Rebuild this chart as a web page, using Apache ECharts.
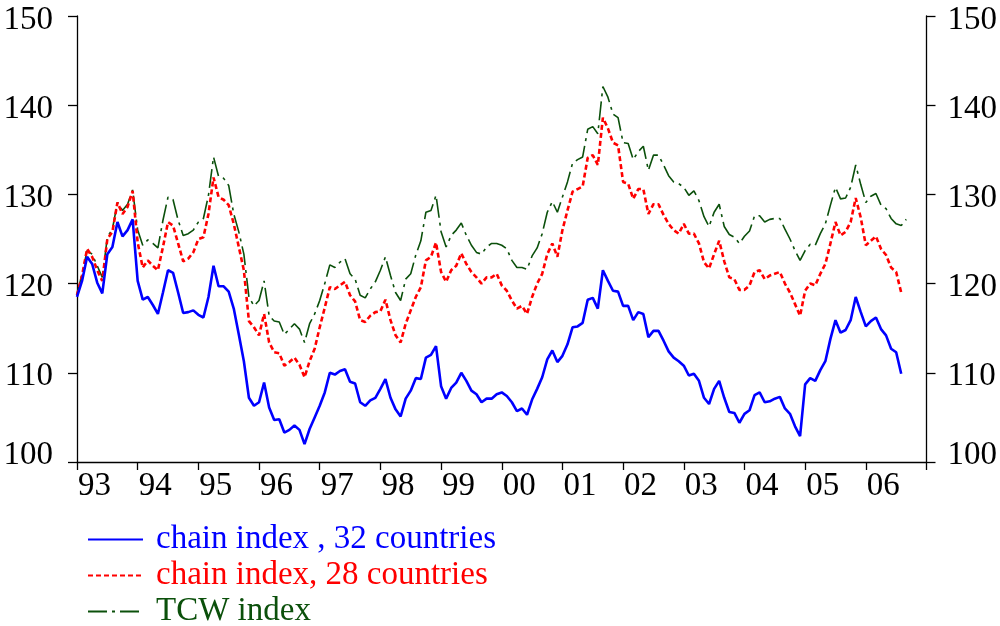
<!DOCTYPE html>
<html>
<head>
<meta charset="utf-8">
<script src="https://cdn.jsdelivr.net/npm/echarts@6/dist/echarts.min.js"></script>
<style>
  html, body { margin: 0; padding: 0; background: #ffffff; }
  #chart { width: 1000px; height: 626px; }
</style>
</head>
<body>
<div id="chart"></div>
<script>
// Monthly index values, starting January 1993
const startYear = 1993;

const chain32 = [
  118.5, 120.3, 123.0, 122.2, 120.1, 118.9, 123.3, 124.1, 126.9, 125.3, 126.0, 127.2,
  120.3, 118.2, 118.5, 117.6, 116.6, 119.0, 121.5, 121.2, 119.0, 116.7, 116.8, 117.0,
  116.5, 116.2, 118.5, 122.0, 119.7, 119.7, 119.1, 117.2, 114.3, 111.3, 107.2, 106.3,
  106.7, 108.9, 106.1, 104.7, 104.8, 103.3, 103.6, 104.1, 103.6, 102.0, 103.7, 105.0,
  106.3, 107.8, 110.0, 109.8, 110.2, 110.4, 109.0, 108.8, 106.7, 106.3, 106.9, 107.2,
  108.2, 109.3, 107.2, 105.9, 105.1, 107.1, 108.0, 109.4, 109.3, 111.7, 112.0, 113.0,
  108.5, 107.1, 108.3, 108.9, 110.0, 109.1, 108.0, 107.6, 106.7, 107.1, 107.1, 107.6,
  107.8, 107.4, 106.7, 105.7, 106.0, 105.3, 107.0, 108.2, 109.5, 111.5, 112.5, 111.2,
  111.9, 113.2, 115.1, 115.2, 115.6, 118.2, 118.4, 117.2, 121.5, 120.3, 119.2, 119.1,
  117.5, 117.5, 115.9, 116.8, 116.6, 114.0, 114.7, 114.7, 113.6, 112.4, 111.7, 111.3,
  110.8, 109.7, 109.9, 109.1, 107.2, 106.5, 108.2, 109.1, 107.2, 105.6, 105.5, 104.4,
  105.4, 105.8, 107.5, 107.8, 106.7, 106.8, 107.1, 107.3, 106.0, 105.4, 104.0, 102.9,
  108.7, 109.4, 109.1, 110.3, 111.3, 113.8, 115.9, 114.5, 114.8, 115.9, 118.5, 116.8,
  115.2, 115.8, 116.2, 114.9, 114.2, 112.7, 112.3, 109.9
];

const chain28 = [
  118.7, 120.9, 123.9, 123.0, 121.5, 120.3, 125.0, 125.8, 129.1, 127.8, 128.6, 130.4,
  124.6, 121.8, 122.6, 122.0, 121.5, 124.1, 126.9, 126.5, 124.5, 122.5, 122.8, 123.5,
  125.0, 125.2, 127.8, 131.9, 129.7, 129.4, 128.8, 126.7, 124.1, 121.5, 115.8, 115.1,
  114.2, 116.6, 113.4, 112.3, 112.2, 110.8, 111.2, 111.7, 110.9, 109.5, 111.3, 112.7,
  115.1, 117.3, 119.6, 119.4, 119.8, 120.2, 118.7, 118.0, 115.9, 115.7, 116.4, 116.8,
  116.9, 118.2, 115.9, 114.2, 113.4, 115.5, 117.0, 118.5, 119.6, 122.6, 123.0, 124.6,
  121.3, 120.2, 121.5, 122.0, 123.4, 122.2, 121.3, 120.7, 120.0, 120.7, 120.7, 121.1,
  119.8, 119.2, 118.1, 117.2, 117.5, 116.6, 118.5, 120.0, 121.1, 123.3, 124.5, 123.0,
  126.0, 128.2, 130.3, 130.6, 130.9, 134.1, 134.4, 133.3, 138.6, 137.4, 135.8, 135.5,
  131.4, 131.2, 129.5, 130.6, 130.6, 127.8, 128.9, 128.9, 127.7, 126.7, 126.0, 125.6,
  126.7, 125.6, 125.6, 124.5, 122.4, 121.7, 123.3, 124.8, 122.5, 120.7, 120.5, 119.3,
  119.3, 119.8, 121.3, 121.5, 120.5, 120.9, 121.1, 121.3, 120.0, 119.0, 117.7, 116.4,
  119.2, 120.0, 119.8, 121.1, 122.2, 124.5, 126.9, 125.4, 125.8, 126.9, 129.6, 127.4,
  124.3, 124.8, 125.3, 123.9, 123.2, 121.8, 121.3, 119.0
];

const tcw = [
  118.8, 121.1, 123.7, 123.3, 122.0, 120.7, 125.2, 126.1, 129.1, 128.2, 128.9, 130.5,
  126.0, 124.3, 124.9, 124.5, 124.0, 127.1, 129.7, 129.4, 127.1, 125.4, 125.6, 126.0,
  126.9, 127.3, 129.9, 134.2, 132.0, 131.8, 131.0, 127.8, 125.8, 123.3, 118.5, 117.5,
  118.1, 120.3, 116.4, 115.8, 115.7, 114.3, 114.9, 115.5, 114.9, 113.4, 115.5, 116.6,
  118.1, 120.0, 122.1, 121.8, 122.4, 122.8, 121.1, 120.5, 118.7, 118.4, 119.4, 120.2,
  121.5, 123.0, 120.9, 119.0, 118.1, 120.5, 121.1, 123.2, 124.8, 128.0, 128.2, 129.9,
  125.8, 124.1, 125.4, 126.0, 126.8, 125.4, 124.3, 123.5, 123.3, 124.1, 124.5, 124.5,
  124.3, 123.9, 122.6, 121.8, 121.8, 121.6, 123.1, 124.0, 125.6, 128.0, 129.2, 128.0,
  129.7, 131.4, 133.5, 133.9, 134.2, 137.3, 137.6, 136.8, 142.1, 140.9, 139.0, 138.6,
  135.8, 135.7, 133.9, 134.8, 135.4, 132.7, 134.4, 134.4, 133.3, 132.1, 131.4, 131.2,
  130.8, 129.9, 130.4, 129.3, 127.5, 126.4, 128.0, 128.9, 126.4, 125.5, 125.2, 124.5,
  125.3, 125.9, 127.6, 127.6, 126.9, 127.2, 127.3, 127.3, 126.1, 125.0, 123.7, 122.6,
  123.7, 124.4, 124.3, 125.6, 126.7, 128.8, 130.8, 129.5, 129.6, 130.8, 133.3, 131.1,
  129.1, 129.8, 130.1, 128.8, 128.4, 127.3, 126.7, 126.5, 127.2
];

const seriesNames = ['chain index , 32 countries', 'chain index, 28 countries', 'TCW index'];
const seriesColors = ['#0000ff', '#ff0000', '#0b500b'];
const yTicks = [100, 110, 120, 130, 140, 150];

// pair each monthly value with its fractional-year position
function toPoints(values) {
  return values.map((v, i) => [startYear + i / 12, v]);
}

const serif = '"Liberation Serif", "DejaVu Serif", serif';

// the bottom value label sits a little higher so it clears the year labels
const yLabel = {
  color: '#000',
  fontSize: 33,
  fontFamily: serif,
  formatter: v => (v === yTicks[0] ? '{low|' + v + '}' : '{std|' + v + '}'),
  rich: {
    std: { fontSize: 33, fontFamily: serif, color: '#000', padding: [8, 0, 0, 0] },
    low: { fontSize: 33, fontFamily: serif, color: '#000', padding: [0, 0, 14, 0] }
  }
};

const yAxisBase = {
  type: 'value',
  min: yTicks[0],
  max: yTicks[yTicks.length - 1],
  interval: 10,
  axisLine: { show: true, lineStyle: { color: '#000', width: 1.3 } },
  axisTick: { show: true, length: 9, lineStyle: { color: '#000', width: 1.3 } },
  splitLine: { show: false }
};

// one legend block per row, stacked under the plot
const legendRowTop = [523, 559, 595];
const legends = seriesNames.map((n, i) => ({
  orient: 'vertical',
  left: 87,
  top: legendRowTop[i],
  padding: 0,
  itemWidth: 55,
  itemHeight: 14,
  itemStyle: { opacity: 0 },
  data: [{ name: n, textStyle: { color: seriesColors[i] } }],
  textStyle: { fontSize: 33, fontFamily: serif, padding: [0, 0, 0, 8] }
}));

const chart = echarts.init(document.getElementById('chart'), null, { renderer: 'canvas' });

chart.setOption({
  animation: false,
  backgroundColor: '#ffffff',
  grid: { left: 77, right: 73, top: 16, bottom: 164, containLabel: false },
  xAxis: {
    type: 'value',
    min: 1993,
    max: 2007,
    interval: 1,
    axisLine: { show: true, onZero: false, lineStyle: { color: '#000', width: 1.3 } },
    axisTick: { show: true, length: 8, lineStyle: { color: '#000', width: 1.3 } },
    splitLine: { show: false },
    axisLabel: {
      color: '#000',
      fontSize: 33,
      fontFamily: serif,
      align: 'left',
      margin: 8,
      padding: [0, 0, 0, 1],
      formatter: v => (v < 2007 ? String(v).slice(2) : '')
    }
  },
  yAxis: [
    Object.assign({}, yAxisBase, {
      position: 'left',
      axisLabel: Object.assign({}, yLabel, { margin: 24 })
    }),
    Object.assign({}, yAxisBase, {
      position: 'right',
      axisLabel: Object.assign({}, yLabel, { margin: 21 })
    })
  ],
  legend: legends,
  series: [
    {
      name: seriesNames[0],
      type: 'line',
      data: toPoints(chain32),
      symbol: 'none',
      color: seriesColors[0],
      lineStyle: { color: seriesColors[0], width: 2.6 },
      z: 3
    },
    {
      name: seriesNames[1],
      type: 'line',
      data: toPoints(chain28),
      symbol: 'none',
      color: seriesColors[1],
      lineStyle: { color: seriesColors[1], width: 2.6, type: [5, 3] },
      z: 2
    },
    {
      name: seriesNames[2],
      type: 'line',
      data: toPoints(tcw),
      symbol: 'none',
      color: seriesColors[2],
      lineStyle: { color: seriesColors[2], width: 1.6, type: [19, 5, 3, 5] },
      z: 1
    }
  ]
});
</script>
</body>
</html>
